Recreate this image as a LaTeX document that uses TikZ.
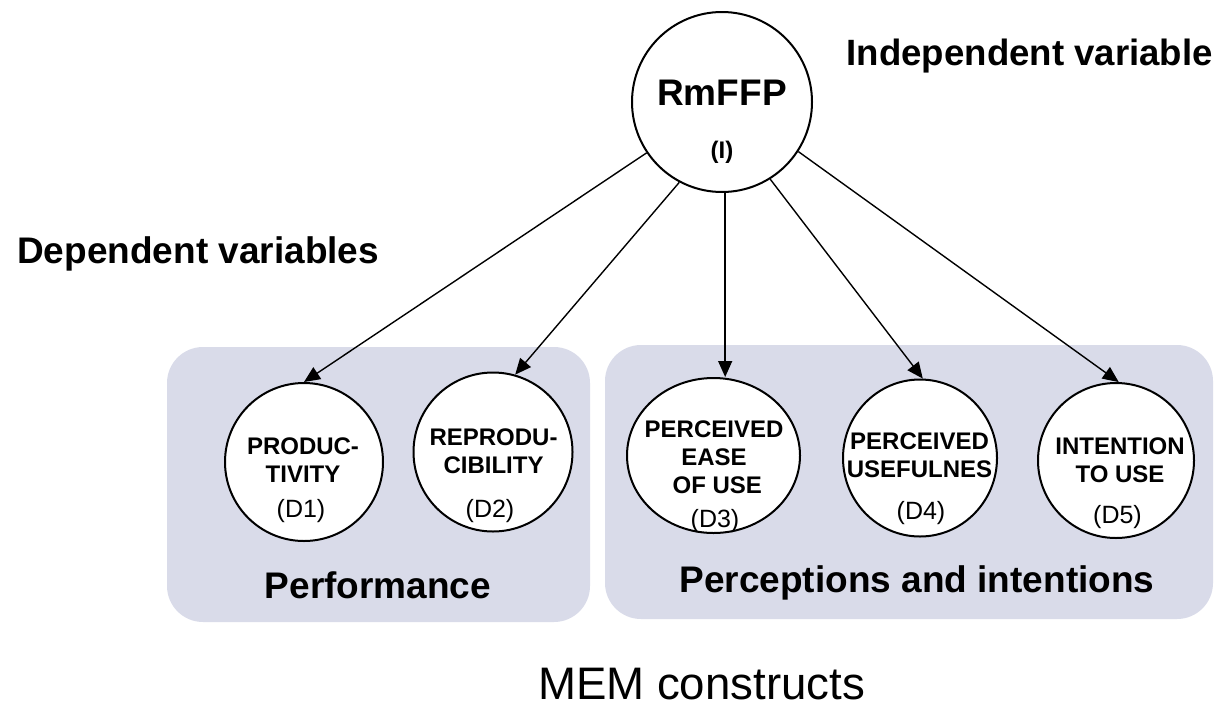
\documentclass[tikz,border=0pt]{standalone}
\usepackage{fontspec}
\setmainfont{Liberation Sans}
\usetikzlibrary{arrows.meta,shapes.geometric}
\definecolor{panel}{RGB}{217,219,233}

\begin{document}
\begin{tikzpicture}[x=1pt,y=-1pt,
  panelbox/.style={fill=panel, draw=none, rounded corners=36pt, inner sep=0pt},
  construct/.style={ellipse, draw, line width=2pt, fill=white, inner sep=0pt},
  cname/.style={font=\fontsize{24}{28}\selectfont\bfseries, align=center, inner sep=0pt},
  cid/.style={font=\fontsize{25}{30}\selectfont, inner sep=0pt},
  heading/.style={font=\fontsize{37}{44}\selectfont\bfseries, inner sep=0pt},
  link/.style={line width=1.4pt, -{Triangle[length=16pt,width=14pt]}}]

\useasboundingbox (0,0) rectangle (1215,710);

% grouping panels
\node[panelbox, minimum width=423pt, minimum height=275pt] (perf) at (378.5,484.5) {};
\node[panelbox, minimum width=608pt, minimum height=274pt] (perc) at (909,482) {};

% independent variable
\node[construct, minimum width=180pt, minimum height=180pt] (rm) at (722,102) {};
\node[heading] (rmname) at (722,93) {RmFFP};
\node[font=\fontsize{24}{28}\selectfont\bfseries, inner sep=0pt] (rmid) at (722,152) {(I)};

% dependent variables
\node[construct, minimum width=158pt, minimum height=158pt] (d1) at (304,462) {};
\node[construct, minimum width=159pt, minimum height=159pt] (d2) at (493,452) {};
\node[construct, minimum width=173pt, minimum height=155pt] (d3) at (713.5,455.5) {};
\node[construct, minimum width=154pt, minimum height=157pt] (d4) at (920,458) {};
\node[construct, minimum width=156pt, minimum height=155pt] (d5) at (1116,460.5) {};

\node[cname] (d1name) at (303,460) {PRODUC-\\TIVITY};
\node[cid] (d1id) at (301,511) {(D1)};
\node[cname] (d2name) at (493.5,451.5) {REPRODU-\\CIBILITY};
\node[cid] (d2id) at (490,511) {(D2)};
\node[cname] (d3name) at (714,457) {PERCEIVED\\EASE\\\ OF USE};
\node[cid] (d3id) at (715,521) {(D3)};
\node[cname] (d4name) at (919.5,455) {PERCEIVED\\USEFULNES};
\node[cid] (d4id) at (921,513) {(D4)};
\node[cname] (d5name) at (1120,460) {INTENTION\\TO USE};
\node[cid] (d5id) at (1117.5,517) {(D5)};

% headings
\node[font=\fontsize{36.6}{44}\selectfont\bfseries, inner sep=0pt, anchor=base east] (indep) at (1213,65) {Independent variable};
\node[heading, anchor=base west] (dep) at (17,263) {Dependent variables};
\node[heading, anchor=base] (perftitle) at (378,598) {Performance};
\node[heading, anchor=base] (perctitle) at (917,592) {Perceptions and intentions};
\node[font=\fontsize{45.6}{54}\selectfont, inner sep=0pt, anchor=base] (caption) at (701.5,699) {MEM constructs};

% causal links
\draw[link] (rm.214.8) -- (d1.north);
\draw[link] (rm.242.3) -- (d2.74);
\draw[link] (rm.272) -- (rm.272 |- d3.north);
\draw[link] (rm.302.7) -- (d4.88);
\draw[link] (rm.327.3) -- (d5.88);
\end{tikzpicture}
\end{document}
